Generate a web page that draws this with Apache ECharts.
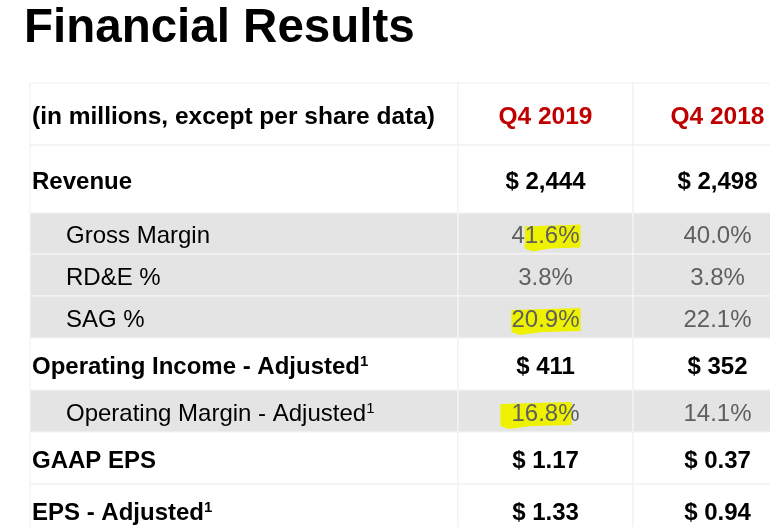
<!DOCTYPE html>
<html>
<head>
<meta charset="UTF-8">
<title>Financial Results</title>
<script src="https://cdn.jsdelivr.net/npm/echarts@6/dist/echarts.min.js"></script>
<style>
html, body { margin: 0; padding: 0; background: #fff; }
#main { width: 770px; height: 527px; }
</style>
</head>
<body>
<div id="main"></div>
<script>
// table content
var headLabel = '(in millions, except per share data)';
var periods = ['Q4 2019', 'Q4 2018'];
var rowNames = ['Revenue', 'Gross Margin', 'RD&E %', 'SAG %', 'Operating Income - Adjusted',
                'Operating Margin - Adjusted', 'GAAP EPS', 'EPS - Adjusted'];
var rowKinds = ['main', 'sub', 'sub', 'sub', 'main', 'sub', 'main', 'main'];
var footnotes = ['', '', '', '', '1', '1', '', '1'];
var q42019 = [2444, 41.6, 3.8, 20.9, 411, 16.8, 1.17, 1.33];
var q42018 = [2498, 40.0, 3.8, 22.1, 352, 14.1, 0.37, 0.94];
var marked2019 = [false, true, false, true, false, true, false, false];

// layout (px) : row heights, column edges inside the grid, highlighter strokes
var rowHeights = [62, 68, 41, 42, 42, 52, 42, 52, 52];
var colEdges = [0, 428, 603, 772];
// [first char, last char, left pad, right pad] of the hand drawn marks
var markSpan = { 2: [1, 5, 0, 1], 4: [0, 5, 0, 1], 6: [0, 5, -11, -8] };
var FONT = 'Liberation Sans, Arial, sans-serif';
var viewH = 527 - 83;

var totalH = 0;
var rows = [];
for (var i = 0; i < rowHeights.length; i++) {
	rows.push([i, totalH, totalH + rowHeights[i]]);
	totalH += rowHeights[i];
}

function fmt(v, kind) {
	if (kind === 'sub') return v.toFixed(1) + '%';
	if (v < 100) return '$ ' + v.toFixed(2);
	return '$ ' + v.toLocaleString('en-US');
}

var measureCtx = document.createElement('canvas').getContext('2d');
function textWidth(t, font) {
	measureCtx.font = font;
	return measureCtx.measureText(t).width;
}

var styles = {
	head: { fill: '#c00000', fontWeight: 'bold' },
	main: { fill: '#000000', fontWeight: 'bold' },
	sub:  { fill: '#5f5f5f', fontWeight: 'normal' }
};

function renderRow(params, api) {
	var idx = api.value(0);
	var y0 = api.value(1), y1 = api.value(2);
	var kind = idx === 0 ? 'head' : rowKinds[idx - 1];
	var st = styles[kind];
	var fontSize = kind === 'head' ? 24.5 : 24;
	var children = [];
	var bg = kind === 'sub' ? '#e4e4e4' : '#ffffff';
	var line = kind === 'sub' ? '#f7f7f7' : '#efefef';

	for (var c = 0; c < 3; c++) {
		var p0 = api.coord([colEdges[c], y0]);
		var p1 = api.coord([colEdges[c + 1], y1]);
		children.push({
			type: 'rect',
			shape: { x: p0[0], y: p0[1], width: p1[0] - p0[0], height: p1[1] - p0[1] },
			style: { fill: bg, stroke: line, lineWidth: 1 }
		});
	}

	var cy = (api.coord([0, y0])[1] + api.coord([0, y1])[1]) / 2 + 3;
	var left = api.coord([0, y0])[0];

	// first column label
	var label = idx === 0 ? headLabel : rowNames[idx - 1];
	var note = idx === 0 ? '' : footnotes[idx - 1];
	children.push({
		type: 'text',
		x: left + (kind === 'sub' ? 36 : 2),
		y: cy,
		style: {
			text: '{a|' + label + '}' + (note ? '{s|' + note + '}' : ''),
			verticalAlign: 'middle',
			align: 'left',
			rich: {
				a: { fontSize: fontSize, fontWeight: st.fontWeight, fontFamily: FONT, color: st.fill, lineHeight: 26 },
				s: { fontSize: 15, fontWeight: st.fontWeight, fontFamily: FONT, color: st.fill, verticalAlign: 'top', lineHeight: 26 }
			}
		}
	});

	// value columns
	for (var k = 0; k < 2; k++) {
		var txt = idx === 0 ? periods[k] : fmt((k === 0 ? q42019 : q42018)[idx - 1], kind);
		var cx = api.coord([(colEdges[k + 1] + colEdges[k + 2]) / 2, y0])[0];
		var font = st.fontWeight + ' ' + fontSize + 'px ' + FONT;
		if (idx > 0 && k === 0 && marked2019[idx - 1]) {
			var w = textWidth(txt, font);
			var sp = markSpan[idx] || [0, txt.length, 0, 0];
			var hx0 = cx - w / 2 + textWidth(txt.slice(0, sp[0]), font) + sp[2];
			var hx1 = cx - w / 2 + textWidth(txt.slice(0, sp[1]), font) + sp[3];
			children.push({
				type: 'polygon',
				shape: { points: [
					[hx0, cy - 10], [hx1, cy - 12], [hx1, cy + 11],
					[hx0 + (hx1 - hx0) * 0.45, cy + 12], [hx0 + 8, cy + 15], [hx0, cy + 12]
				] },
				style: { fill: '#eef200' }
			});
		}
		children.push({
			type: 'text',
			x: cx,
			y: cy,
			style: {
				text: txt,
				fill: st.fill,
				font: font,
				align: 'center',
				verticalAlign: 'middle'
			}
		});
	}
	return { type: 'group', children: children };
}

var myChart = echarts.init(document.getElementById('main'));
var option = {
	backgroundColor: '#ffffff',
	animation: false,
	title: {
		text: 'Financial Results',
		left: 24,
		top: 5,
		padding: 0,
		textStyle: { fontSize: 47.5, fontWeight: 'bold', color: '#000', fontFamily: FONT }
	},
	grid: { left: 30, top: 83, width: 740, height: viewH, outerBoundsMode: 'none' },
	xAxis: { type: 'value', min: 0, max: 740, show: false },
	yAxis: { type: 'value', min: 0, max: viewH, inverse: true, show: false },
	series: [{
		type: 'custom',
		clip: false,
		renderItem: renderRow,
		encode: { x: -1, y: [1, 2] },
		data: rows
	}]
};
myChart.setOption(option);
</script>
</body>
</html>
